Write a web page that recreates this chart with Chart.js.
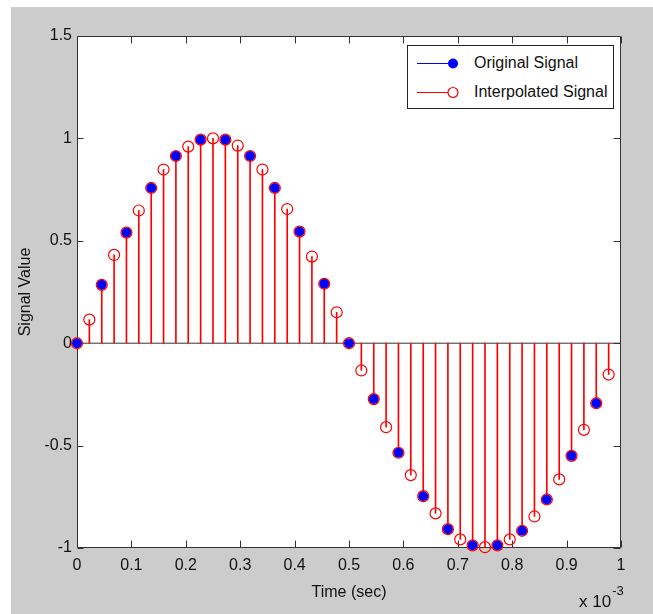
<!DOCTYPE html>
<html>
<head>
<meta charset="utf-8">
<script src="https://cdn.jsdelivr.net/npm/chart.js@4/dist/chart.umd.min.js"></script>
<style>
  html, body { margin: 0; padding: 0; background: #ffffff; }
  body { width: 653px; height: 614px; position: relative; overflow: hidden; }
  #wrap { position: absolute; left: 11px; top: 7px; width: 642px; height: 607px; background: #cccccc; }
  #legend { position: absolute; left: 407px; top: 45px; width: 205px; height: 62px; border: 1px solid #222; background: #fff;
            font-family: "Liberation Sans", Arial, sans-serif; font-size: 16px; color: #111; }
  #legend span { position: absolute; left: 66px; line-height: 20px; white-space: nowrap; }
</style>
</head>
<body>
<div id="wrap"><canvas id="c" width="642" height="607"></canvas></div>
<div id="legend">
  <svg width="205" height="62" style="position:absolute;left:0;top:0">
    <line x1="9" y1="17.5" x2="45" y2="17.5" stroke="#0000ff" stroke-width="1"/>
    <circle cx="45" cy="17.5" r="5" fill="#0000ff"/>
    <line x1="9" y1="46.5" x2="45" y2="46.5" stroke="#ff0000" stroke-width="1"/>
    <circle cx="45" cy="46.5" r="5" fill="#ffffff" stroke="#ff0000" stroke-width="1.2"/>
  </svg>
  <span id="lg1" style="top:7px">Original Signal</span>
  <span id="lg2" style="top:36px">Interpolated Signal</span>
</div>
<script>
// ---- data (time in units of 1e-3 s) ----
const origTime = [0, 0.0455, 0.0909, 0.1364, 0.1818, 0.2273, 0.2727, 0.3182, 0.3636, 0.4091, 0.4545,
                  0.5, 0.5455, 0.5909, 0.6364, 0.6818, 0.7273, 0.7727, 0.8182, 0.8636, 0.9091, 0.9545];
const origValue = [0, 0.285, 0.54, 0.758, 0.914, 0.994, 0.994, 0.914, 0.758, 0.545, 0.29,
                   0, -0.273, -0.535, -0.747, -0.908, -0.987, -0.987, -0.916, -0.763, -0.55, -0.293];
const interpTime = [0, 0.0227, 0.0455, 0.0682, 0.0909, 0.1136, 0.1364, 0.1591, 0.1818, 0.2045, 0.2273,
                    0.25, 0.2727, 0.2955, 0.3182, 0.3409, 0.3636, 0.3864, 0.4091, 0.4318, 0.4545, 0.4773,
                    0.5, 0.5227, 0.5455, 0.5682, 0.5909, 0.6136, 0.6364, 0.6591, 0.6818, 0.7045, 0.7273,
                    0.75, 0.7727, 0.7955, 0.8182, 0.8409, 0.8636, 0.8864, 0.9091, 0.9318, 0.9545, 0.9773];
const interpValue = [0, 0.115, 0.285, 0.431, 0.54, 0.648, 0.758, 0.848, 0.914, 0.96, 0.994,
                     1.0, 0.994, 0.965, 0.914, 0.848, 0.758, 0.655, 0.545, 0.423, 0.29, 0.151,
                     0, -0.133, -0.273, -0.41, -0.535, -0.644, -0.747, -0.831, -0.908, -0.958, -0.987,
                     -0.996, -0.987, -0.958, -0.916, -0.846, -0.763, -0.665, -0.55, -0.423, -0.293, -0.153];
const baselineX = [0, 1];
const xTicks = [0, 0.1, 0.2, 0.3, 0.4, 0.5, 0.6, 0.7, 0.8, 0.9, 1];
const yTicks = [-1, -0.5, 0, 0.5, 1, 1.5];
const xLabel = 'Time (sec)';
const yLabel = 'Signal Value';
const seriesNames = ['Original Signal', 'Interpolated Signal'];

const FONT = '"Liberation Sans", Arial, sans-serif';
const AXIS = '#333333';
const TXT = '#111111';

const orig = origTime.map((t, i) => ({x: t, y: origValue[i]}));
const interp = interpTime.map((t, i) => ({x: t, y: interpValue[i]}));
const base = baselineX.map(x => ({x: x, y: 0}));

const boxPlugin = {
  id: 'matlabBox',
  beforeDatasetsDraw(chart) {
    const {ctx, chartArea: a, scales: {x, y}} = chart;
    ctx.save();
    ctx.fillStyle = '#ffffff';
    ctx.fillRect(a.left, a.top, a.right - a.left, a.bottom - a.top);
    ctx.strokeStyle = AXIS;
    ctx.lineWidth = 1;
    const L = Math.round(a.left) + 0.5, R = Math.round(a.right) - 0.5;
    const T = Math.round(a.top) + 0.5, B = Math.round(a.bottom) - 0.5;
    ctx.beginPath();
    ctx.rect(L, T, R - L, B - T);
    xTicks.forEach(v => {
      const px = Math.round(x.getPixelForValue(v)) + 0.5;
      ctx.moveTo(px, B); ctx.lineTo(px, B - 7);
      ctx.moveTo(px, T); ctx.lineTo(px, T + 7);
    });
    yTicks.forEach(v => {
      const py = Math.round(y.getPixelForValue(v)) + 0.5;
      ctx.moveTo(L, py); ctx.lineTo(L + 6, py);
      ctx.moveTo(R, py); ctx.lineTo(R - 7, py);
    });
    ctx.stroke();
    ctx.restore();
  },
  afterDraw(chart) {
    const {ctx, chartArea: a} = chart;
    ctx.save();
    ctx.fillStyle = TXT;
    ctx.textBaseline = 'alphabetic';
    ctx.textAlign = 'left';
    ctx.font = '17px ' + FONT;
    const xs = a.right - 42;
    ctx.fillText('x 10', xs, a.bottom + 59);
    const w = ctx.measureText('x 10').width;
    ctx.font = '13px ' + FONT;
    ctx.fillText('-3', xs + w + 1, a.bottom + 47);
    ctx.restore();
  }
};

new Chart(document.getElementById('c'), {
  type: 'bar',
  data: {
    datasets: [
      { type: 'line', label: 'baseline', data: base, borderColor: AXIS, borderWidth: 1, pointRadius: 0, order: 6, clip: false },
      { type: 'bar', label: seriesNames[1] + ' stems', data: interp, backgroundColor: '#ff0000', barThickness: 1, grouped: false, order: 4 },
      { type: 'scatter', label: seriesNames[0], data: orig, pointRadius: 5, pointBackgroundColor: '#0000ff',
        pointBorderColor: '#0000ff', pointBorderWidth: 0, order: 3, clip: false },
      { type: 'scatter', label: seriesNames[1], data: interp, pointRadius: 5.5, pointBackgroundColor: 'rgba(0,0,0,0)',
        pointBorderColor: '#ff0000', pointBorderWidth: 1.2, order: 2, clip: false }
    ]
  },
  options: {
    responsive: false,
    devicePixelRatio: 1,
    animation: false,
    events: [],
    layout: { padding: { left: 0, top: 29, right: 32, bottom: 0 } },
    plugins: { legend: { display: false }, tooltip: { enabled: false } },
    scales: {
      x: {
        type: 'linear', min: 0, max: 1, offset: false,
        afterFit(s) { s.height = 66; },
        afterBuildTicks(s) { s.ticks = xTicks.map(v => ({value: v})); },
        grid: { display: false, drawTicks: false },
        border: { display: false },
        ticks: { padding: 8, color: TXT, font: { family: FONT, size: 16 }, maxRotation: 0, autoSkip: false,
                 callback: v => String(+v.toFixed(1)) },
        title: { display: true, text: xLabel, color: TXT, font: { family: FONT, size: 16 }, padding: { top: 0, bottom: 12 } }
      },
      y: {
        type: 'linear', min: -1, max: 1.5,
        afterFit(s) { s.width = 66; },
        afterBuildTicks(s) { s.ticks = yTicks.map(v => ({value: v})); },
        grid: { display: false, drawTicks: false },
        border: { display: false },
        ticks: { padding: 5, color: TXT, font: { family: FONT, size: 16 }, autoSkip: false,
                 callback: v => String(+v.toFixed(1)) },
        title: { display: true, text: yLabel, color: TXT, font: { family: FONT, size: 16 }, padding: { top: 5, bottom: 0 } }
      }
    }
  },
  plugins: [boxPlugin]
});
</script>
</body>
</html>
